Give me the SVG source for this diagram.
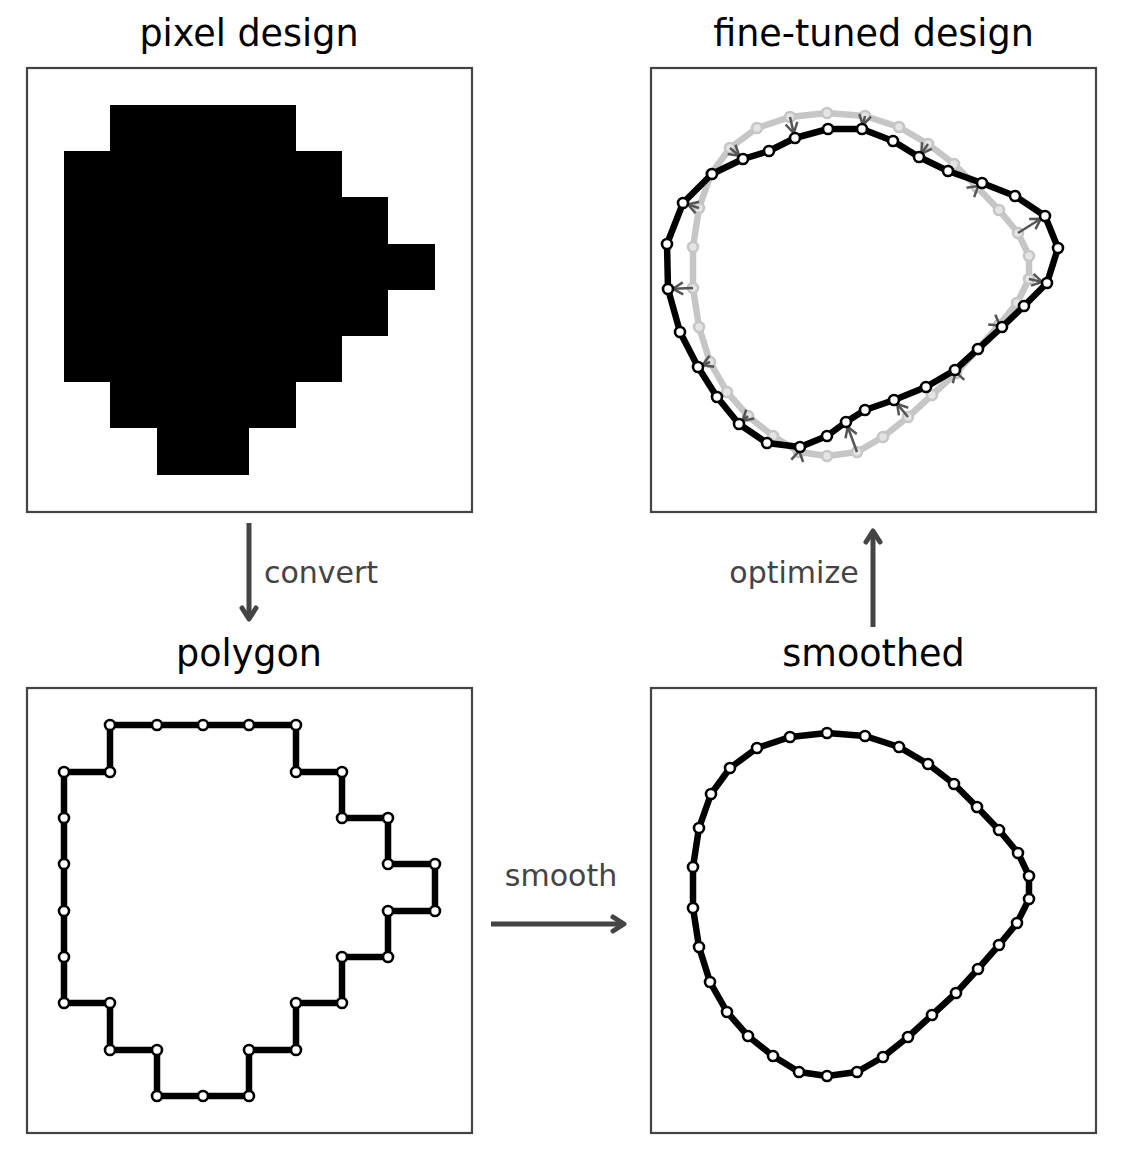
<svg xmlns="http://www.w3.org/2000/svg" width="1123" height="1160" viewBox="0 0 1123 1160">
<style>
.frame{fill:#fff;stroke:#444;stroke-width:2.2}
.title{font-family:"DejaVu Sans",sans-serif;font-size:36.5px;fill:#000;text-anchor:middle}
.lab{font-family:"DejaVu Sans",sans-serif;font-size:30px;fill:#444;text-anchor:middle}
.blk{fill:none;stroke:#000;stroke-width:6.5;stroke-linejoin:round}
.gry{fill:none;stroke:#c6c6c6;stroke-width:6.5;stroke-linejoin:round}
.bp{fill:#fff;stroke:#000;stroke-width:2.6}
.gp{fill:#e4e4e4;stroke:#c6c6c6;stroke-width:2.6}
.conn{fill:none;stroke:#444;stroke-width:5}
.mv{fill:none;stroke:#555;stroke-width:2.5}
</style>
<defs>
<marker id="ah" markerUnits="userSpaceOnUse" markerWidth="30" markerHeight="30" refX="0" refY="0" viewBox="-15 -15 30 30" orient="auto" overflow="visible">
<path d="M-11,-7 L0,0 L-11,7" fill="none" stroke="#444" stroke-width="5" stroke-linecap="round" stroke-linejoin="round"/>
</marker>
<marker id="sh" markerUnits="userSpaceOnUse" markerWidth="24" markerHeight="24" refX="0" refY="0" viewBox="-12 -12 24 24" orient="auto" overflow="visible">
<path d="M-10,-6 L0,0 L-10,6" fill="none" stroke="#555" stroke-width="2.5"/>
</marker>
</defs>
<rect width="1123" height="1160" fill="#fff"/>

<g id="pixel-design">
<text class="title" x="249" y="46">pixel design</text>
<rect class="frame" x="27" y="68" width="445" height="444"/>
<path fill="#000" d="M110,105 H296 V151 H342 V197 H388 V244 H435 V290 H388 V336 H342 V382 H296 V428 H249 V475 H157 V428 H110 V382 H64 V151 H110 Z"/>
</g>

<g id="fine-tuned-design">
<text class="title" x="873.5" y="46">fine-tuned design</text>
<rect class="frame" x="651" y="68" width="445" height="444"/>
<polygon class="gry" points="827,113 865,116 899,127 928,144 954,164 977,187 999,210 1018,233 1029,256 1029,279 1017,303 999,325 978,349 956,373 932,395 908,417 883,437 857,452 827,456 799,452 773,436 748,416 727,392 710,362 699,327 693,288 693,247 699,208 711,174 730,148 757,128 790,117"/>
<g class="gp">
<circle cx="827" cy="113" r="5"/><circle cx="865" cy="116" r="5"/><circle cx="899" cy="127" r="5"/><circle cx="928" cy="144" r="5"/><circle cx="954" cy="164" r="5"/><circle cx="977" cy="187" r="5"/><circle cx="999" cy="210" r="5"/><circle cx="1018" cy="233" r="5"/><circle cx="1029" cy="256" r="5"/><circle cx="1029" cy="279" r="5"/><circle cx="1017" cy="303" r="5"/><circle cx="999" cy="325" r="5"/><circle cx="978" cy="349" r="5"/><circle cx="956" cy="373" r="5"/><circle cx="932" cy="395" r="5"/><circle cx="908" cy="417" r="5"/><circle cx="883" cy="437" r="5"/><circle cx="857" cy="452" r="5"/><circle cx="827" cy="456" r="5"/><circle cx="799" cy="452" r="5"/><circle cx="773" cy="436" r="5"/><circle cx="748" cy="416" r="5"/><circle cx="727" cy="392" r="5"/><circle cx="710" cy="362" r="5"/><circle cx="699" cy="327" r="5"/><circle cx="693" cy="288" r="5"/><circle cx="693" cy="247" r="5"/><circle cx="699" cy="208" r="5"/><circle cx="711" cy="174" r="5"/><circle cx="730" cy="148" r="5"/><circle cx="757" cy="128" r="5"/><circle cx="790" cy="117" r="5"/>
</g>
<g class="mv" marker-end="url(#sh)">
<line x1="865" y1="116" x2="862.9" y2="125.1"/>
<line x1="928" y1="144" x2="921.3" y2="153.7"/>
<line x1="977" y1="187" x2="978.1" y2="186.1"/>
<line x1="1018" y1="233" x2="1040.8" y2="218.7"/>
<line x1="1029" y1="279" x2="1042.1" y2="281.9"/>
<line x1="999" y1="325" x2="999.8" y2="325.6"/>
<line x1="956" y1="373" x2="955.7" y2="372"/>
<line x1="908" y1="417" x2="897.2" y2="403.9"/>
<line x1="857" y1="452" x2="847.7" y2="426.7"/>
<line x1="799" y1="452" x2="799.2" y2="451"/>
<line x1="748" y1="416" x2="742.75" y2="420.7"/>
<line x1="710" y1="362" x2="702.6" y2="365.1"/>
<line x1="693" y1="288" x2="673" y2="288.8"/>
<line x1="699" y1="208" x2="687.8" y2="204.5"/>
<line x1="730" y1="148" x2="739.2" y2="155.8"/>
<line x1="790" y1="117" x2="793.8" y2="133.1"/>
</g>
<polygon class="blk" points="828,129 862,129 893,141 919,157 948,171 982,183 1015,196 1045,216 1058,248 1047,283 1024,306 1002,327 978,349 955,370 926,387 894,400 865,410 846,422 827,436 800,447 767,443 739,424 717,397 698,367 680,332 668,289 667,244 683,203 712,174 743,159 769,151 795,138"/>
<g class="bp">
<circle cx="828" cy="129" r="5"/><circle cx="862" cy="129" r="5"/><circle cx="893" cy="141" r="5"/><circle cx="919" cy="157" r="5"/><circle cx="948" cy="171" r="5"/><circle cx="982" cy="183" r="5"/><circle cx="1015" cy="196" r="5"/><circle cx="1045" cy="216" r="5"/><circle cx="1058" cy="248" r="5"/><circle cx="1047" cy="283" r="5"/><circle cx="1024" cy="306" r="5"/><circle cx="1002" cy="327" r="5"/><circle cx="978" cy="349" r="5"/><circle cx="955" cy="370" r="5"/><circle cx="926" cy="387" r="5"/><circle cx="894" cy="400" r="5"/><circle cx="865" cy="410" r="5"/><circle cx="846" cy="422" r="5"/><circle cx="827" cy="436" r="5"/><circle cx="800" cy="447" r="5"/><circle cx="767" cy="443" r="5"/><circle cx="739" cy="424" r="5"/><circle cx="717" cy="397" r="5"/><circle cx="698" cy="367" r="5"/><circle cx="680" cy="332" r="5"/><circle cx="668" cy="289" r="5"/><circle cx="667" cy="244" r="5"/><circle cx="683" cy="203" r="5"/><circle cx="712" cy="174" r="5"/><circle cx="743" cy="159" r="5"/><circle cx="769" cy="151" r="5"/><circle cx="795" cy="138" r="5"/>
</g>
</g>

<g id="polygon">
<text class="title" x="249" y="666">polygon</text>
<rect class="frame" x="27" y="688" width="445" height="445"/>
<polygon class="blk" points="110,725 157,725 203,725 249,725 296,725 296,772 342,772 342,818 388,818 388,864 435,864 435,911 388,911 388,957 342,957 342,1003 296,1003 296,1050 249,1050 249,1096 203,1096 157,1096 157,1050 110,1050 110,1003 64,1003 64,957 64,911 64,864 64,818 64,772 110,772"/>
<g class="bp">
<circle cx="110" cy="725" r="5"/><circle cx="157" cy="725" r="5"/><circle cx="203" cy="725" r="5"/><circle cx="249" cy="725" r="5"/><circle cx="296" cy="725" r="5"/><circle cx="296" cy="772" r="5"/><circle cx="342" cy="772" r="5"/><circle cx="342" cy="818" r="5"/><circle cx="388" cy="818" r="5"/><circle cx="388" cy="864" r="5"/><circle cx="435" cy="864" r="5"/><circle cx="435" cy="911" r="5"/><circle cx="388" cy="911" r="5"/><circle cx="388" cy="957" r="5"/><circle cx="342" cy="957" r="5"/><circle cx="342" cy="1003" r="5"/><circle cx="296" cy="1003" r="5"/><circle cx="296" cy="1050" r="5"/><circle cx="249" cy="1050" r="5"/><circle cx="249" cy="1096" r="5"/><circle cx="203" cy="1096" r="5"/><circle cx="157" cy="1096" r="5"/><circle cx="157" cy="1050" r="5"/><circle cx="110" cy="1050" r="5"/><circle cx="110" cy="1003" r="5"/><circle cx="64" cy="1003" r="5"/><circle cx="64" cy="957" r="5"/><circle cx="64" cy="911" r="5"/><circle cx="64" cy="864" r="5"/><circle cx="64" cy="818" r="5"/><circle cx="64" cy="772" r="5"/><circle cx="110" cy="772" r="5"/>
</g>
</g>

<g id="smoothed">
<text class="title" x="873.5" y="666">smoothed</text>
<rect class="frame" x="651" y="688" width="445" height="445"/>
<polygon class="blk" points="827,733 865,736 899,747 928,764 954,784 977,807 999,830 1018,853 1029,876 1029,899 1017,923 999,945 978,969 956,993 932,1015 908,1037 883,1057 857,1072 827,1076 799,1072 773,1056 748,1036 727,1012 710,982 699,947 693,908 693,867 699,828 711,794 730,768 757,748 790,737"/>
<g class="bp">
<circle cx="827" cy="733" r="5"/><circle cx="865" cy="736" r="5"/><circle cx="899" cy="747" r="5"/><circle cx="928" cy="764" r="5"/><circle cx="954" cy="784" r="5"/><circle cx="977" cy="807" r="5"/><circle cx="999" cy="830" r="5"/><circle cx="1018" cy="853" r="5"/><circle cx="1029" cy="876" r="5"/><circle cx="1029" cy="899" r="5"/><circle cx="1017" cy="923" r="5"/><circle cx="999" cy="945" r="5"/><circle cx="978" cy="969" r="5"/><circle cx="956" cy="993" r="5"/><circle cx="932" cy="1015" r="5"/><circle cx="908" cy="1037" r="5"/><circle cx="883" cy="1057" r="5"/><circle cx="857" cy="1072" r="5"/><circle cx="827" cy="1076" r="5"/><circle cx="799" cy="1072" r="5"/><circle cx="773" cy="1056" r="5"/><circle cx="748" cy="1036" r="5"/><circle cx="727" cy="1012" r="5"/><circle cx="710" cy="982" r="5"/><circle cx="699" cy="947" r="5"/><circle cx="693" cy="908" r="5"/><circle cx="693" cy="867" r="5"/><circle cx="699" cy="828" r="5"/><circle cx="711" cy="794" r="5"/><circle cx="730" cy="768" r="5"/><circle cx="757" cy="748" r="5"/><circle cx="790" cy="737" r="5"/>
</g>
</g>

<g id="connectors">
<line class="conn" x1="249" y1="523" x2="249" y2="619" marker-end="url(#ah)"/>
<text class="lab" x="321" y="583">convert</text>
<line class="conn" x1="491" y1="924" x2="624" y2="924" marker-end="url(#ah)"/>
<text class="lab" x="561" y="886">smooth</text>
<line class="conn" x1="873" y1="627" x2="873" y2="531" marker-end="url(#ah)"/>
<text class="lab" x="794" y="583">optimize</text>
</g>
</svg>
